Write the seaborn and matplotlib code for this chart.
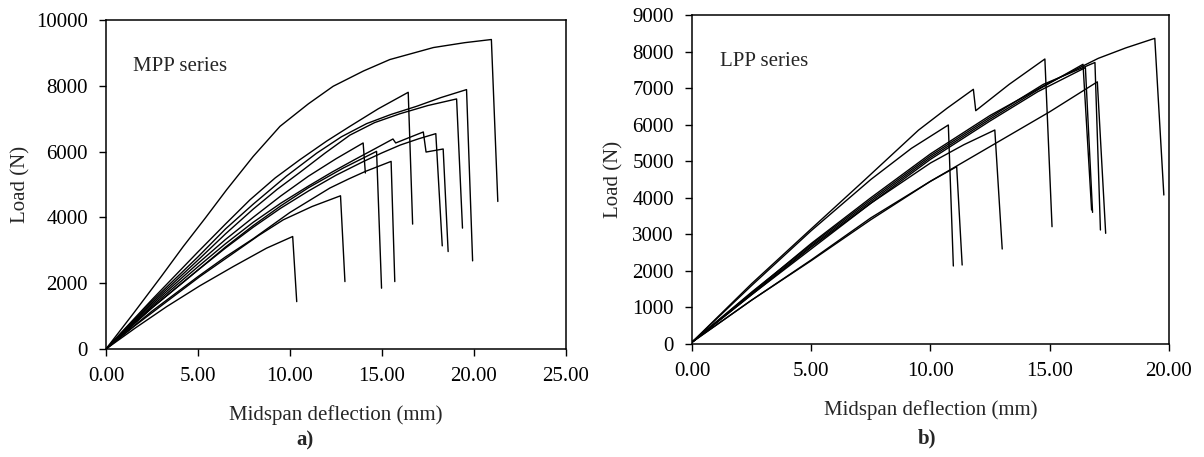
import pandas as pd
import matplotlib.pyplot as plt
import seaborn as sns

# MPP series: load-deflection curves (deflection mm, load N)
mpp_1_x = [0, 1.5, 3.0, 4.2, 5.4, 6.56, 8.0, 9.46, 11.0, 12.35, 14.0, 15.43, 17.8, 19.5, 20.95, 21.3]
mpp_1_y = [0, 1087, 2200, 3114, 3980, 4840, 5850, 6767, 7450, 7985, 8450, 8797, 9162, 9310, 9406, 4484]
mpp_2_x = [0, 2.5, 5, 6.5, 7.83, 9.2, 10.54, 12.0, 13.26, 14.8, 16.43, 16.67]
mpp_2_y = [0, 1500, 2950, 3800, 4535, 5200, 5753, 6320, 6767, 7300, 7802, 3796]
mpp_3_x = [0, 2.5, 5, 6.5, 8, 9.8, 11.45, 12.8, 14.17, 15.5, 16.88, 18.2, 19.6, 19.93]
mpp_3_y = [0, 1450, 2800, 3650, 4400, 5250, 5950, 6450, 6850, 7130, 7375, 7640, 7884, 2679]
mpp_4_x = [0, 2.5, 5, 6.5, 8, 9.3, 10.5, 11.9, 13.26, 14.6, 15.98, 17.5, 19.06, 19.38]
mpp_4_y = [0, 1400, 2700, 3500, 4250, 4850, 5350, 5950, 6500, 6880, 7150, 7400, 7600, 3674]
mpp_5_x = [0, 2.5, 5, 6.5, 8, 9.5, 11, 12.3, 13.5, 14.6, 15.6, 15.75, 16.5, 17.25, 17.4, 18.33, 18.6]
mpp_5_y = [0, 1300, 2500, 3200, 3850, 4430, 4950, 5380, 5750, 6080, 6383, 6262, 6430, 6596, 5986, 6079, 2962]
mpp_6_x = [0, 2.5, 5, 6.5, 8, 9.5, 11, 12.5, 14, 15, 16, 17, 17.93, 18.28]
mpp_6_y = [0, 1250, 2400, 3070, 3700, 4280, 4800, 5280, 5700, 5960, 6200, 6390, 6545, 3135]
mpp_7_x = [0, 2.5, 5, 6.5, 8, 9.5, 11, 12.5, 13.98, 14.1]
mpp_7_y = [0, 1350, 2600, 3330, 4000, 4650, 5250, 5780, 6262, 5350]
mpp_8_x = [0, 2.5, 5, 6.5, 8, 9.5, 11, 12.9, 14.71, 14.98]
mpp_8_y = [0, 1250, 2400, 3100, 3750, 4350, 4900, 5500, 6007, 1848]
mpp_9_x = [0, 2.5, 5, 6.5, 8, 10, 12.17, 13.2, 14.1, 15.5, 15.7]
mpp_9_y = [0, 1150, 2200, 2800, 3350, 4150, 4892, 5170, 5397, 5702, 2049]
mpp_10_x = [0, 1.6, 3.3, 5.1, 6.92, 8.3, 9.64, 11.2, 12.75, 12.99]
mpp_10_y = [0, 720, 1440, 2200, 2911, 3450, 3927, 4330, 4657, 2049]
mpp_11_x = [0, 1.6, 3.3, 5.1, 6.92, 8.73, 10.15, 10.37]
mpp_11_y = [0, 640, 1288, 1920, 2506, 3065, 3419, 1440]

# LPP series
lpp_1_x = [0, 2.5, 5, 7.5, 10, 12.5, 15, 17.04, 18.2, 19.41, 19.79]
lpp_1_y = [50, 1400, 2750, 4000, 5200, 6250, 7150, 7813, 8100, 8360, 4075]
lpp_2_x = [0, 2.5, 5, 7.18, 9.5, 10.7, 11.8, 11.9, 13.3, 14.8, 15.1]
lpp_2_y = [50, 1650, 3150, 4450, 5850, 6450, 6966, 6381, 7100, 7795, 3208]
lpp_3_x = [0, 2.5, 5, 7.5, 10, 12.5, 14.73, 16.9, 17.13]
lpp_3_y = [50, 1420, 2720, 3950, 5150, 6200, 7100, 7700, 3118]
lpp_4_x = [0, 2.5, 5, 7.5, 10, 12.5, 14.5, 16.4, 16.76]
lpp_4_y = [50, 1380, 2680, 3900, 5100, 6150, 6950, 7650, 3665]
lpp_5_x = [0, 2.5, 5, 7.5, 10, 12.5, 14.5, 16.5, 16.8]
lpp_5_y = [50, 1350, 2650, 3850, 5050, 6100, 6900, 7560, 3600]
lpp_6_x = [0, 2.5, 5, 7.5, 10, 12.5, 15, 17.0, 17.35]
lpp_6_y = [50, 1200, 2300, 3450, 4450, 5400, 6350, 7170, 3027]
lpp_7_x = [0, 2.5, 5, 7.5, 9.2, 10.75, 10.96]
lpp_7_y = [50, 1600, 3100, 4500, 5350, 5990, 2133]
lpp_8_x = [0, 2.5, 5, 7.5, 10, 11.4, 12.7, 13.01]
lpp_8_y = [50, 1350, 2600, 3850, 4950, 5450, 5853, 2598]
lpp_9_x = [0, 2.5, 5, 7.5, 10, 11.1, 11.33]
lpp_9_y = [50, 1200, 2280, 3400, 4450, 4850, 2160]

mpp_curves = [(mpp_1_x, mpp_1_y), (mpp_2_x, mpp_2_y), (mpp_3_x, mpp_3_y), (mpp_4_x, mpp_4_y),
              (mpp_5_x, mpp_5_y), (mpp_6_x, mpp_6_y), (mpp_7_x, mpp_7_y), (mpp_8_x, mpp_8_y),
              (mpp_9_x, mpp_9_y), (mpp_10_x, mpp_10_y), (mpp_11_x, mpp_11_y)]
lpp_curves = [(lpp_1_x, lpp_1_y), (lpp_2_x, lpp_2_y), (lpp_3_x, lpp_3_y), (lpp_4_x, lpp_4_y),
              (lpp_5_x, lpp_5_y), (lpp_6_x, lpp_6_y), (lpp_7_x, lpp_7_y), (lpp_8_x, lpp_8_y),
              (lpp_9_x, lpp_9_y)]


def to_frame(curves):
    rows = []
    for i, (xs, ys) in enumerate(curves):
        for k, (x, y) in enumerate(zip(xs, ys)):
            rows.append({'specimen': i, 'order': k, 'Deflection': x, 'Load': y})
    return pd.DataFrame(rows)


mpp_df = to_frame(mpp_curves)
lpp_df = to_frame(lpp_curves)

sns.set_style("ticks")
plt.rcParams['font.family'] = ['Liberation Serif', 'DejaVu Serif']
fs = 15

fig = plt.figure(figsize=(12.04, 4.57), dpi=100)
ax1 = fig.add_axes([0.088, 0.2363, 0.382, 0.72])
ax2 = fig.add_axes([0.5748, 0.2473, 0.396, 0.72])


def style_axes(ax, xmax, ymax, ystep, label, xlabelpad, ylabelpad):
    ax.set_xlim(0, xmax)
    ax.set_ylim(0, ymax)
    ax.set_xticks(range(0, int(xmax) + 1, 5))
    ax.set_xticklabels([f"{v:.2f}" for v in range(0, int(xmax) + 1, 5)])
    ax.set_yticks(range(0, ymax + 1, ystep))
    ax.set_xlabel('Midspan deflection (mm)', fontsize=fs, labelpad=xlabelpad)
    ax.set_ylabel('Load (N)', fontsize=fs, labelpad=ylabelpad)
    ax.tick_params(direction='out', length=5, width=1, labelsize=fs, colors='black')
    ax.tick_params(axis='x', pad=8)
    ax.tick_params(axis='y', pad=8)
    for s in ax.spines.values():
        s.set_visible(True)
        s.set_color('black')
        s.set_linewidth(1.1)
    ax.text(0.058, 0.86, label, transform=ax.transAxes, fontsize=fs, va='center')
    legend = ax.get_legend()
    if legend is not None:
        legend.remove()


sns.lineplot(data=mpp_df, x='Deflection', y='Load', units='specimen', estimator=None,
             sort=False, color='black', lw=1.0, ax=ax1)
sns.lineplot(data=lpp_df, x='Deflection', y='Load', units='specimen', estimator=None,
             sort=False, color='black', lw=1.0, ax=ax2)

style_axes(ax1, 25, 10000, 2000, 'MPP series', 13.5, 4)
style_axes(ax2, 20, 9000, 1000, 'LPP series', 14, 6.5)

fig.text(305 / 1204, 1 - 440 / 457, 'a)', ha='center', va='center', fontsize=fs, fontweight='bold')
fig.text(927 / 1204, 1 - 438 / 457, 'b)', ha='center', va='center', fontsize=fs, fontweight='bold')

plt.savefig('out.png', dpi=100)
